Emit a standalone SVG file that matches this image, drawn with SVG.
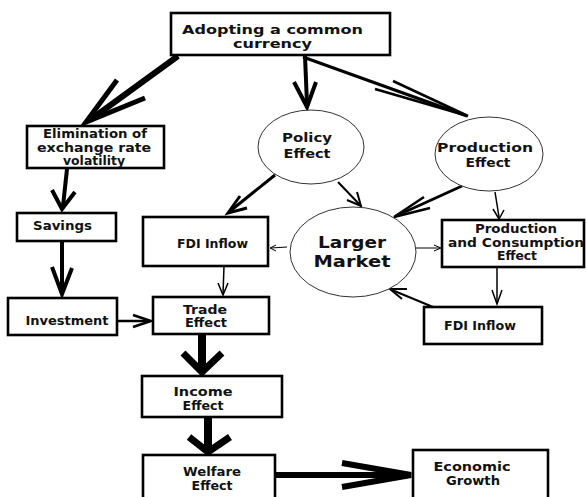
<svg xmlns="http://www.w3.org/2000/svg" width="586" height="497" viewBox="0 0 586 497">
<style>
.box{fill:#fff;stroke:#000;stroke-width:2.6}
.ell{fill:#fff;stroke:#333;stroke-width:1}
text{font-family:"DejaVu Sans","Liberation Sans",sans-serif;font-weight:bold;font-size:12px;fill:#111;text-anchor:middle}
.big{font-size:16px}
.c{fill:none;stroke:#000;stroke-linecap:butt;stroke-linejoin:miter}
</style>
<rect width="586" height="497" fill="#fff"/>
<g id="connectors">
<path class="c" d="M178,56 L90,120" stroke-width="6"/>
<path class="c" d="M117,80 L86,122 L145,98" stroke-width="5"/>
<path class="c" d="M305,56 L307,104" stroke-width="4"/>
<path class="c" d="M294,82 L307,107 L316,82" stroke-width="4"/>
<path class="c" d="M303,57 L467,116" stroke-width="3"/>
<path class="c" d="M393,81 L468,116 L375,89" stroke-width="2.5"/>
<path class="c" d="M67,169 L63,206" stroke-width="4"/>
<path class="c" d="M52,190 L62,209 L75,192" stroke-width="4"/>
<path class="c" d="M62,241 L62,292" stroke-width="4"/>
<path class="c" d="M52,267 L62,294 L72,268" stroke-width="4"/>
<path class="c" d="M117,321 L150,321" stroke-width="2.5"/>
<path class="c" d="M133,315 L151,321 L133,327" stroke-width="2.5"/>
<path class="c" d="M224,266 L223,294" stroke-width="1.5"/>
<path class="c" d="M218,283 L223,295 L228,283" stroke-width="1.5"/>
<path class="c" d="M275,175 L229,212" stroke-width="3"/>
<path class="c" d="M240,196 L228,213 L247,208" stroke-width="3"/>
<path class="c" d="M338,182 L360,205" stroke-width="2"/>
<path class="c" d="M347,200 L361,206 L357,192" stroke-width="2"/>
<path class="c" d="M462,186 L396,216" stroke-width="3"/>
<path class="c" d="M424,197 L394,217 L430,208" stroke-width="2.5"/>
<path class="c" d="M495,192 L499,217" stroke-width="1.5"/>
<path class="c" d="M493,209 L499,219 L504,210" stroke-width="1.5"/>
<path class="c" d="M287,247 L271,248" stroke-width="1"/>
<path class="c" d="M276,245 L270,248 L276,251" stroke-width="1"/>
<path class="c" d="M416,248 L440,248" stroke-width="1"/>
<path class="c" d="M434,245 L441,248 L434,251" stroke-width="1"/>
<path class="c" d="M497,267 L497,302" stroke-width="1.5"/>
<path class="c" d="M492,290 L497,304 L502,290" stroke-width="1.5"/>
<path class="c" d="M433,307 L392,290" stroke-width="2"/>
<path class="c" d="M407,289 L390,289 L402,299" stroke-width="2"/>
<path class="c" d="M202,334 L202,370" stroke-width="8"/>
<path class="c" d="M183,353 L202,372 L222,353" stroke-width="7"/>
<path class="c" d="M208,417 L208,450" stroke-width="8"/>
<path class="c" d="M189,437 L208,452 L230,437" stroke-width="7"/>
<path class="c" d="M275,475 L408,475" stroke-width="6"/>
<path class="c" d="M342,463 L411,475 L342,487" stroke-width="6"/>
</g>
<g id="n-top"><rect class="box" x="171" y="13" width="219" height="42"/>
<text x="272.5" y="34" font-size="13" textLength="181" lengthAdjust="spacingAndGlyphs">Adopting a common</text>
<text x="272.5" y="48" font-size="13" textLength="79" lengthAdjust="spacingAndGlyphs">currency</text></g>
<g id="n-elim"><rect class="box" x="27" y="126" width="137" height="42"/>
<text x="95" y="138" textLength="104" lengthAdjust="spacingAndGlyphs">Elimination of</text>
<text x="94" y="152" textLength="114" lengthAdjust="spacingAndGlyphs">exchange rate</text>
<text x="94" y="165" textLength="62" lengthAdjust="spacingAndGlyphs">volatility</text></g>
<g id="n-savings"><rect class="box" x="17" y="213" width="99" height="28"/>
<text x="62.5" y="230" textLength="59" lengthAdjust="spacingAndGlyphs">Savings</text></g>
<g id="n-fdi1"><rect class="box" x="143" y="217" width="125" height="49"/>
<text x="212.5" y="248" textLength="71" lengthAdjust="spacingAndGlyphs">FDI Inflow</text></g>
<g id="n-policy"><ellipse class="ell" cx="311" cy="147" rx="53" ry="37"/>
<text x="307" y="142" font-size="13" textLength="50" lengthAdjust="spacingAndGlyphs">Policy</text>
<text x="307" y="158" font-size="13" textLength="47" lengthAdjust="spacingAndGlyphs">Effect</text></g>
<g id="n-prod"><ellipse class="ell" cx="489" cy="154" rx="54" ry="37"/>
<text x="485" y="152" font-size="13" textLength="96" lengthAdjust="spacingAndGlyphs">Production</text>
<text x="488" y="167" font-size="13" textLength="45" lengthAdjust="spacingAndGlyphs">Effect</text></g>
<g id="n-market"><ellipse class="ell" cx="353" cy="252" rx="63" ry="45"/>
<text class="big" x="352" y="248" textLength="68" lengthAdjust="spacingAndGlyphs">Larger</text>
<text class="big" x="352" y="267" textLength="77" lengthAdjust="spacingAndGlyphs">Market</text></g>
<g id="n-pc"><rect class="box" x="442" y="220" width="142" height="47"/>
<text x="516" y="233" textLength="82" lengthAdjust="spacingAndGlyphs">Production</text>
<text x="516" y="247" textLength="136" lengthAdjust="spacingAndGlyphs">and Consumption</text>
<text x="517" y="260" textLength="40" lengthAdjust="spacingAndGlyphs">Effect</text></g>
<g id="n-fdi2"><rect class="box" x="424" y="307" width="118" height="37"/>
<text x="480" y="330" textLength="72" lengthAdjust="spacingAndGlyphs">FDI Inflow</text></g>
<g id="n-invest"><rect class="box" x="8" y="298" width="109" height="37"/>
<text x="67" y="325" textLength="83" lengthAdjust="spacingAndGlyphs">Investment</text></g>
<g id="n-trade"><rect class="box" x="153" y="297" width="116" height="37"/>
<text x="205" y="314" textLength="44" lengthAdjust="spacingAndGlyphs">Trade</text>
<text x="206" y="327" textLength="42" lengthAdjust="spacingAndGlyphs">Effect</text></g>
<g id="n-income"><rect class="box" x="142" y="376" width="140" height="41"/>
<text x="203" y="396" textLength="59" lengthAdjust="spacingAndGlyphs">Income</text>
<text x="203" y="410" textLength="41" lengthAdjust="spacingAndGlyphs">Effect</text></g>
<g id="n-welfare"><rect class="box" x="143" y="455" width="132" height="44"/>
<text x="212" y="476" textLength="58" lengthAdjust="spacingAndGlyphs">Welfare</text>
<text x="212" y="490" textLength="41" lengthAdjust="spacingAndGlyphs">Effect</text></g>
<g id="n-growth"><rect class="box" x="413" y="450" width="135" height="49"/>
<text x="472" y="471" textLength="77" lengthAdjust="spacingAndGlyphs">Economic</text>
<text x="473" y="485" textLength="54" lengthAdjust="spacingAndGlyphs">Growth</text></g>
</svg>
